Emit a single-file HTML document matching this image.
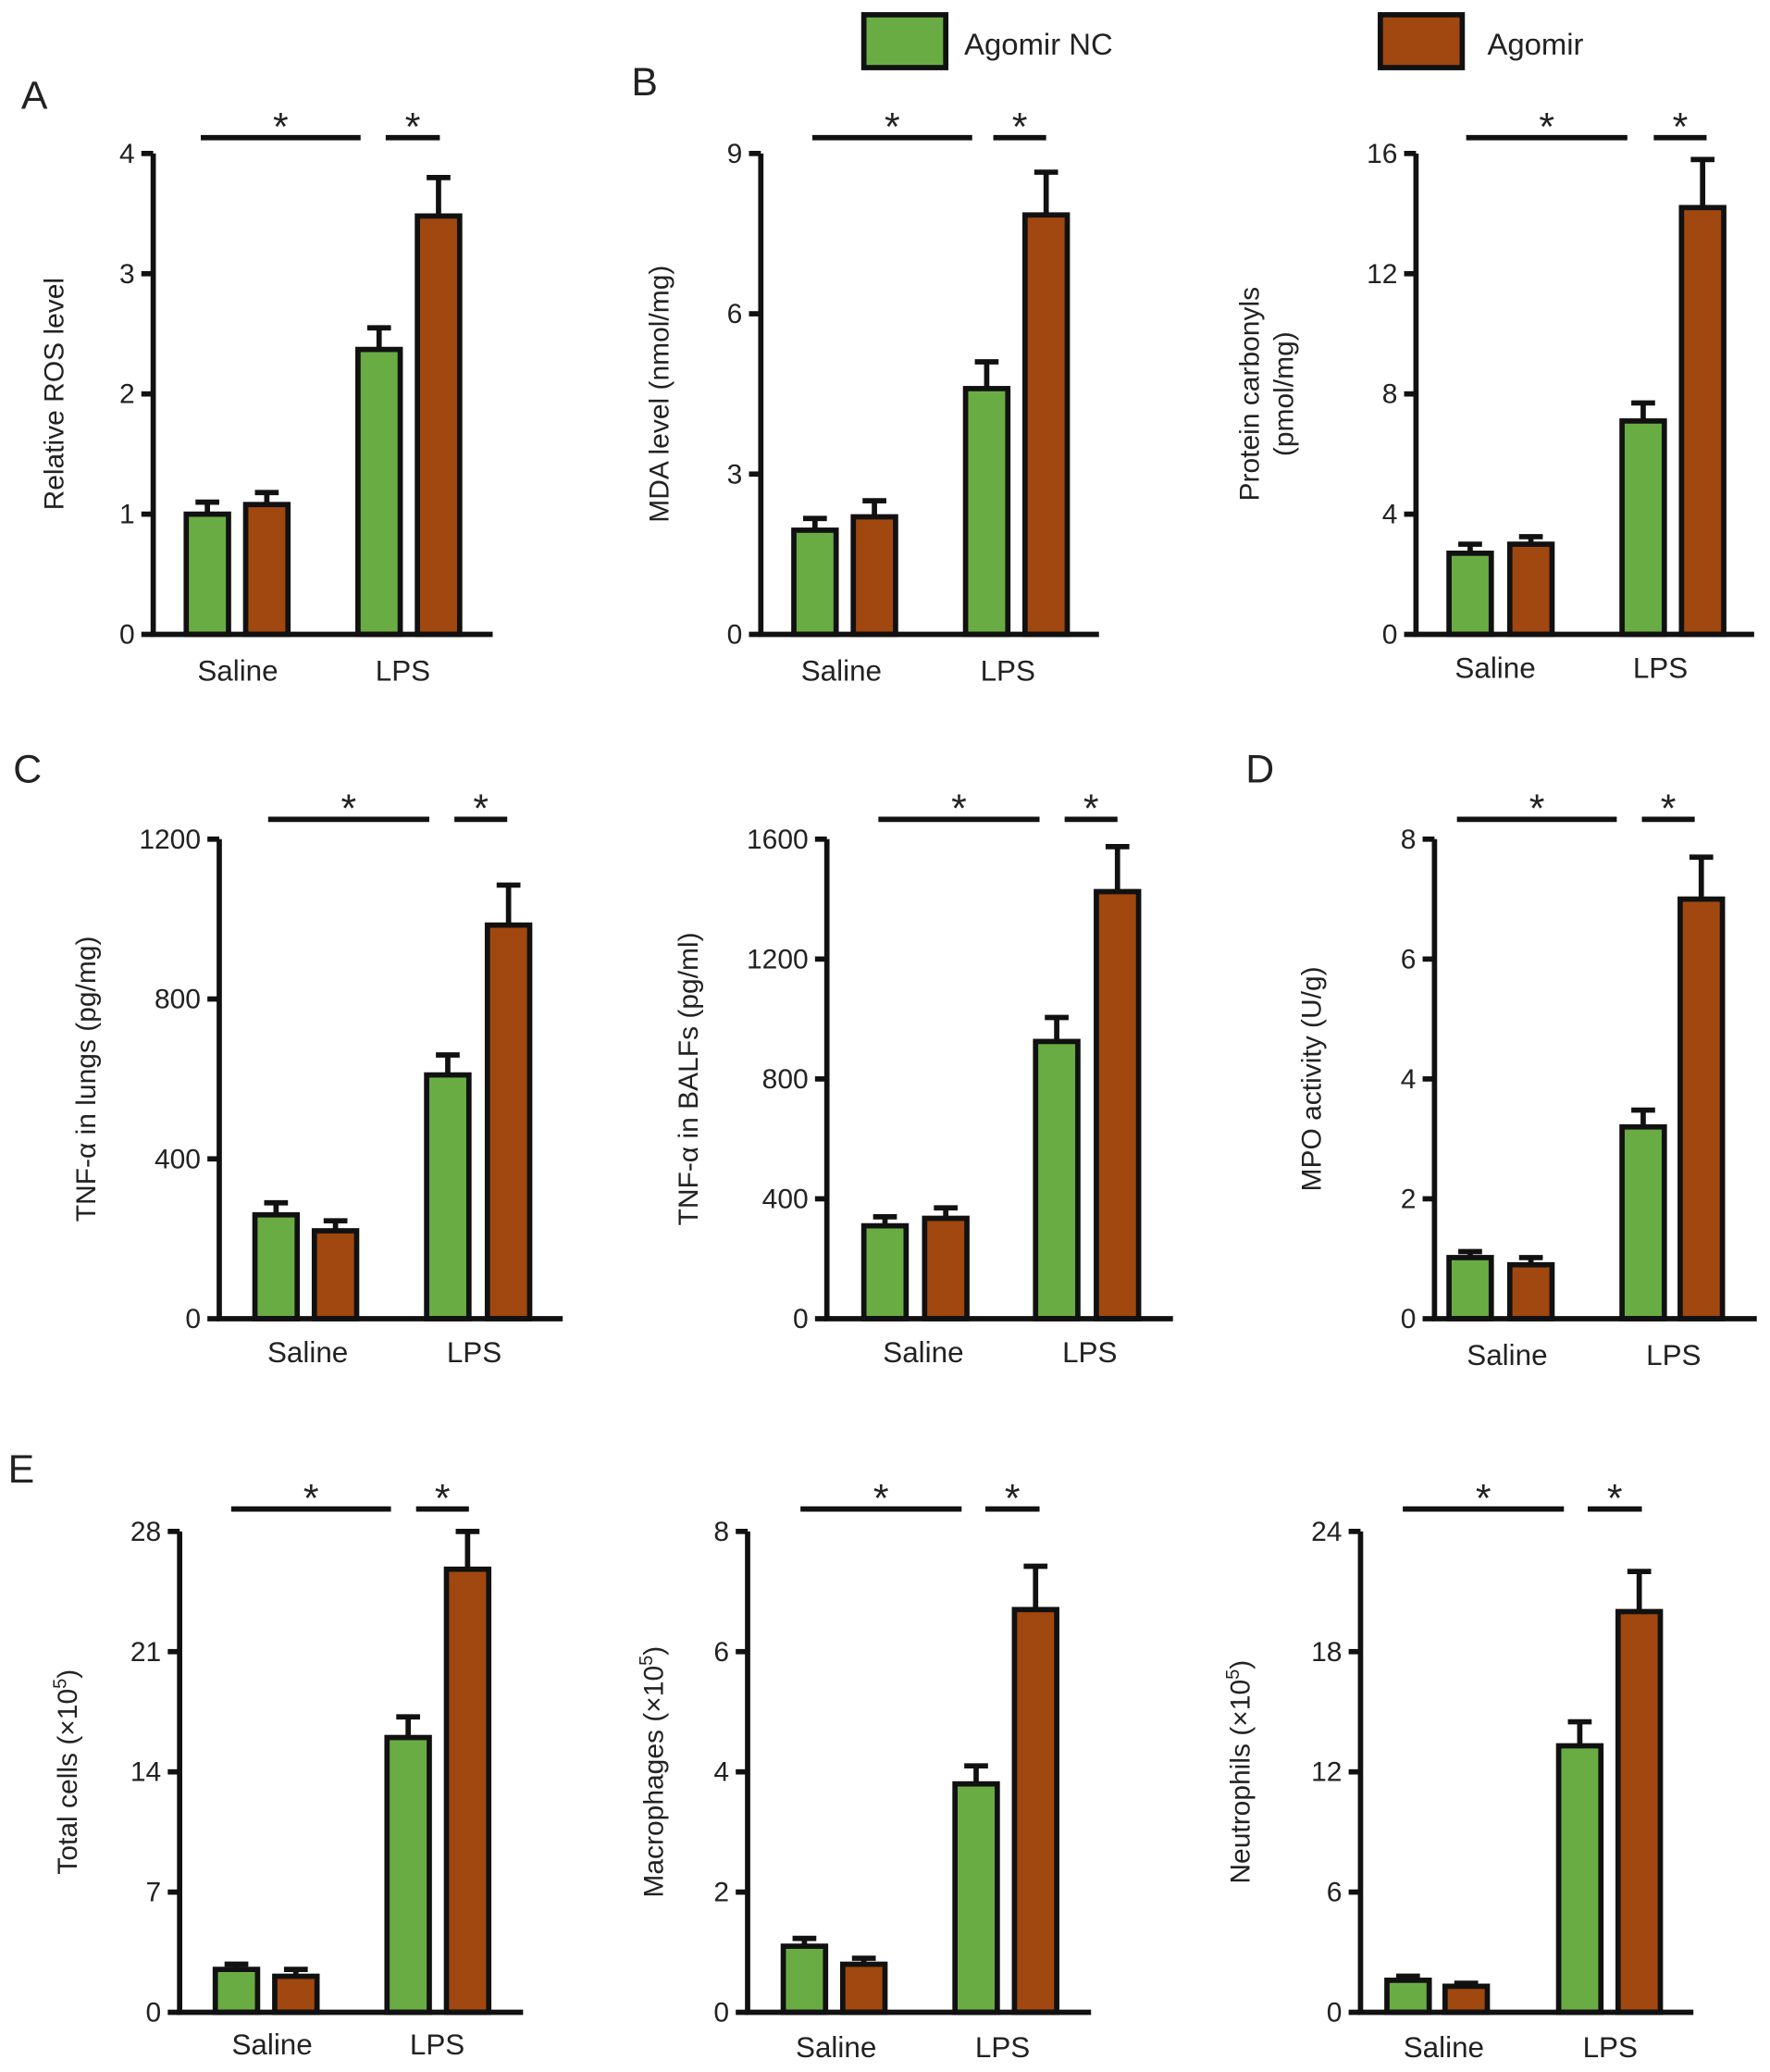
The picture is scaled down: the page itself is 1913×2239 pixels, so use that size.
<!DOCTYPE html>
<html><head><meta charset="utf-8"><style>
html,body{margin:0;padding:0;background:#fff}
svg{display:block}
text{font-family:"Liberation Sans",sans-serif;fill:#222}
</style></head><body>
<svg id="fig" width="1913" height="2239" viewBox="0 0 1340 1568" xmlns="http://www.w3.org/2000/svg">
<g>
<rect x="654" y="11" width="62" height="40" fill="#6aac44" stroke="#111" stroke-width="4"/>
<text x="730" y="41" font-size="23">Agomir NC</text>
<rect x="1045" y="11" width="62" height="40" fill="#a0480f" stroke="#111" stroke-width="4"/>
<text x="1126" y="41" font-size="23">Agomir</text>
</g>
<text x="16" y="82" font-size="30">A</text>
<text x="478" y="72" font-size="30">B</text>
<text x="10" y="592" font-size="30">C</text>
<text x="943" y="592" font-size="30">D</text>
<text x="6" y="1122" font-size="30">E</text>
</svg>
<script>
const groups = ["Saline", "LPS"];
const rosValues = [1.0, 1.08, 2.37, 3.48];
const rosErrors = [0.1, 0.1, 0.18, 0.32];
const rosTicks = [0, 1, 2, 3, 4];
const mdaValues = [1.95, 2.2, 4.6, 7.85];
const mdaErrors = [0.22, 0.3, 0.5, 0.8];
const mdaTicks = [0, 3, 6, 9];
const pcValues = [2.7, 3.0, 7.1, 14.2];
const pcErrors = [0.3, 0.25, 0.6, 1.6];
const pcTicks = [0, 4, 8, 12, 16];
const tnfLungValues = [260, 220, 610, 985];
const tnfLungErrors = [30, 25, 50, 100];
const tnfLungTicks = [0, 400, 800, 1200];
const tnfBalfValues = [310, 335, 925, 1425];
const tnfBalfErrors = [30, 35, 80, 150];
const tnfBalfTicks = [0, 400, 800, 1200, 1600];
const mpoValues = [1.02, 0.9, 3.2, 7.0];
const mpoErrors = [0.1, 0.12, 0.28, 0.7];
const mpoTicks = [0, 2, 4, 6, 8];
const totalValues = [2.5, 2.1, 16.0, 25.8];
const totalErrors = [0.3, 0.4, 1.2, 2.2];
const totalTicks = [0, 7, 14, 21, 28];
const macroValues = [1.1, 0.8, 3.8, 6.7];
const macroErrors = [0.13, 0.1, 0.3, 0.72];
const macroTicks = [0, 2, 4, 6, 8];
const neutroValues = [1.6, 1.3, 13.3, 20.0];
const neutroErrors = [0.2, 0.15, 1.2, 2.0];
const neutroTicks = [0, 6, 12, 18, 24];

const panels = [
 {name:"ros", ax:116, top:116, bot:480, end:373, bars:[157,202,287,332], v:rosValues, e:rosErrors, t:rosTicks, sig:[152,273,292,333], sy:104, title:["Relative ROS level"], tx:48, gx:[180,305], ly:515},
 {name:"mda", ax:576, top:116, bot:480, end:832, bars:[617,662,747,792], v:mdaValues, e:mdaErrors, t:mdaTicks, sig:[615,736,752,792], sy:104, title:["MDA level (nmol/mg)"], tx:506, gx:[637,763], ly:515},
 {name:"protein-carbonyls", ax:1072, top:116, bot:480, end:1328, bars:[1113,1159,1244,1289], v:pcValues, e:pcErrors, t:pcTicks, sig:[1110,1232,1252,1292], sy:104, title:["Protein carbonyls","(pmol/mg)"], tx:966, gx:[1132,1257], ly:513},
 {name:"tnf-lungs", ax:166, top:635, bot:998, end:426, bars:[209,254,339,385], v:tnfLungValues, e:tnfLungErrors, t:tnfLungTicks, sig:[203,325,344,384], sy:620, title:["TNF-α in lungs (pg/mg)"], tx:72, gx:[233,359], ly:1031},
 {name:"tnf-balf", ax:626, top:635, bot:998, end:888, bars:[670,716,800,846], v:tnfBalfValues, e:tnfBalfErrors, t:tnfBalfTicks, sig:[665,787,806,846], sy:620, title:["TNF-α in BALFs (pg/ml)"], tx:528, gx:[699,825], ly:1031},
 {name:"mpo", ax:1086, top:635, bot:998, end:1330, bars:[1113,1159,1244,1288], v:mpoValues, e:mpoErrors, t:mpoTicks, sig:[1103,1224,1243,1283], sy:620, title:["MPO activity (U/g)"], tx:1000, gx:[1141,1267], ly:1033},
 {name:"total-cells", ax:136, top:1159, bot:1523, end:396, bars:[179,224,309,354], v:totalValues, e:totalErrors, t:totalTicks, sig:[175,296,315,355], sy:1142, title:["Total cells (×10|5|)"], tx:58, gx:[206,331], ly:1555},
 {name:"macrophages", ax:566, top:1159, bot:1523, end:826, bars:[609,654,739,784], v:macroValues, e:macroErrors, t:macroTicks, sig:[606,728,746,787], sy:1142, title:["Macrophages (×10|5|)"], tx:502, gx:[633,759], ly:1557},
 {name:"neutrophils", ax:1030, top:1159, bot:1523, end:1282, bars:[1066,1110,1196,1241], v:neutroValues, e:neutroErrors, t:neutroTicks, sig:[1062,1184,1202,1243], sy:1142, title:["Neutrophils (×10|5|)"], tx:946, gx:[1093,1219], ly:1557}
];
const NS="http://www.w3.org/2000/svg";
const svg=document.getElementById('fig');
function mk(tag, attrs, parent){const el=document.createElementNS(NS,tag);for(const k in attrs)el.setAttribute(k,attrs[k]);parent.appendChild(el);return el;}
const colors=["#6aac44","#a0480f","#6aac44","#a0480f"];
panels.forEach(p=>{
 const g=mk('g',{},svg);
 
 
 const max=p.t[p.t.length-1];
 const y=v=>p.bot-(v/max)*(p.bot-p.top);
 const bw=32;
 p.v.forEach((val,i)=>{
  const cx=p.bars[i], top=y(val), et=y(val+p.e[i]);
  const eb=mk('path',{d:`M${cx} ${top} V${et} M${cx-9} ${et} H${cx+9}`,stroke:"#111","stroke-width":4,fill:"none"},g);
  
  
  const r=mk('rect',{x:cx-bw/2,y:top,width:bw,height:p.bot-top,fill:colors[i],stroke:"#111","stroke-width":4},g);
  
  
 });
 const axes=mk('path',{d:`M${p.ax} ${p.top} V${p.bot} H${p.end}`,stroke:"#111","stroke-width":4,fill:"none"},g);
 
 
 p.t.forEach(tv=>{
  const ty=y(tv);
  const tk=mk('line',{x1:p.ax-9,x2:p.ax,y1:ty,y2:ty,stroke:"#111","stroke-width":4},g);
  
  
  const tl=mk('text',{x:p.ax-14,y:ty+7,"text-anchor":"end","font-size":21},g);
  tl.textContent=tv;
  
  
 });
 groups.forEach((gn,i)=>{
  const xl=mk('text',{x:p.gx[i],y:p.ly,"text-anchor":"middle","font-size":22},g);
  xl.textContent=gn;
  
  
 });
 const cy=(p.top+p.bot)/2;
 p.title.forEach((t,i)=>{
  const n=p.title.length;
  const xx=p.tx+(i-(n-1)/2)*26;
  const tt=mk('text',{x:xx,y:cy,"text-anchor":"middle","font-size":21,transform:`rotate(-90 ${xx} ${cy})`},g);
  const parts=t.split('|');
  if(parts.length===1){tt.textContent=t;}
  else{
   const a=mk('tspan',{},tt);a.textContent=parts[0];
   const b=mk('tspan',{dy:-8,"font-size":14},tt);b.textContent=parts[1];
   const c=mk('tspan',{dy:8},tt);c.textContent=parts[2];
  }
  
  
 });
 for(let k=0;k<2;k++){
  const x1=p.sig[k*2], x2=p.sig[k*2+1];
  const sl=mk('line',{x1:x1,x2:x2,y1:p.sy,y2:p.sy,stroke:"#111","stroke-width":4},g);
  
  
  const st=mk('text',{x:(x1+x2)/2,y:p.sy+2,"text-anchor":"middle","font-size":30},g);
  st.textContent='*';
  
  
 }
});
</script>
</body></html>
